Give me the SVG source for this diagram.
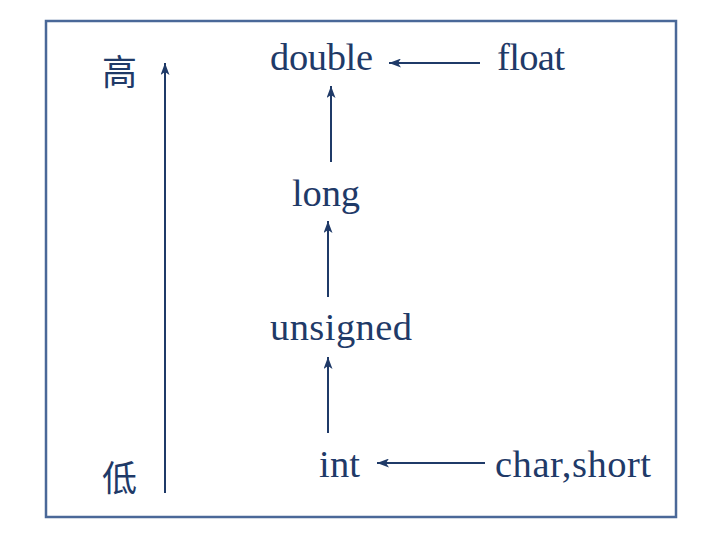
<svg xmlns="http://www.w3.org/2000/svg" width="710" height="538" viewBox="0 0 710 538">
<defs>
<style>
.t{font-family:"Liberation Serif","Times New Roman",serif;font-size:38.5px;fill:#1f3a68}
.c{font-family:"Noto Sans CJK SC","Noto Sans CJK JP",serif;font-size:35px;fill:#1f3a68}
.e{stroke:#1f3a68;stroke-width:2;fill:none;marker-end:url(#ah)}
</style>
<marker id="ah" viewBox="0 0 12 9" refX="12" refY="4.5" markerWidth="12" markerHeight="9" markerUnits="userSpaceOnUse" orient="auto">
<path d="M0,0 L12,4.5 L0,9 L3,4.5 Z" fill="#1f3a68"/>
</marker>
</defs>
<rect x="0" y="0" width="710" height="538" fill="#fff"/>
<rect id="frame" x="46" y="21" width="630" height="496" fill="none" stroke="#4a6898" stroke-width="2.5"/>
<g id="connectors">
<line class="e" x1="165" y1="493" x2="165" y2="63"/>
<line class="e" x1="480" y1="63" x2="389" y2="63"/>
<line class="e" x1="331" y1="162" x2="331" y2="86"/>
<line class="e" x1="328" y1="297" x2="328" y2="221"/>
<line class="e" x1="328" y1="433" x2="328" y2="357"/>
<line class="e" x1="485" y1="463" x2="377" y2="463"/>
</g>
<g id="high"><text class="c" x="102" y="85">高</text></g>
<g id="low"><text class="c" x="102" y="491">低</text></g>
<g id="double"><text class="t" x="270" y="70" textLength="103">double</text></g>
<g id="float"><text class="t" x="497" y="70" textLength="68">float</text></g>
<g id="long"><text class="t" x="292" y="206" textLength="68">long</text></g>
<g id="unsigned"><text class="t" x="270" y="340" textLength="142">unsigned</text></g>
<g id="int"><text class="t" x="319" y="477" textLength="41">int</text></g>
<g id="charshort"><text class="t" x="495" y="477" textLength="156">char,short</text></g>
</svg>
